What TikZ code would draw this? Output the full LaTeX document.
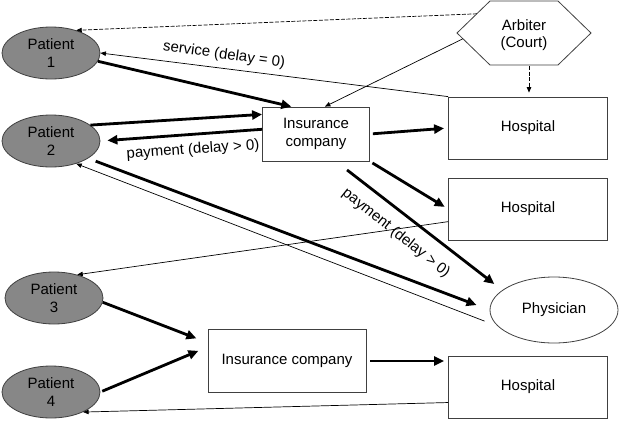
\documentclass[tikz,border=0pt]{standalone}
\usepackage{fontspec}
\setmainfont{Liberation Sans}
\usetikzlibrary{arrows.meta,shapes.geometric,calc}
\begin{document}
\begin{tikzpicture}[x=1pt,y=-1pt,
  every node/.style={font=\fontsize{15}{17.5}\selectfont, align=center, text=black},
  patient/.style={ellipse, draw=black!75, line width=0.8pt, fill=black!47, minimum width=98pt, minimum height=52pt, inner sep=0pt},
  box/.style={rectangle, draw=black!75, line width=0.8pt, fill=white, inner sep=0pt},
  hosp/.style={box, minimum width=159pt, minimum height=62pt},
  thickarrow/.style={line width=2.8pt, -{Triangle[length=10pt,width=9pt]}},
  thinarrow/.style={line width=0.7pt, -{Triangle[length=5.5pt,width=4.5pt]}},
  thindash/.style={thinarrow, dash pattern=on 4pt off 1.5pt},
]
\useasboundingbox (0,0) rectangle (619,421);

% nodes
\node[patient] (p1) at (51,53) {Patient\\1};
\node[patient] (p2) at (51,141) {Patient\\2};
\node[patient] (p3) at (54,298) {Patient\\3};
\node[patient] (p4) at (51,392) {Patient\\4};
\node[box, minimum width=107pt, minimum height=54pt] (ins1) at (316,134) {Insurance\\company};
\node[hosp] (h1) at (528,128) {Hospital};
\node[hosp] (h2) at (528,209) {Hospital};
\node[ellipse, draw=black!75, line width=0.8pt, minimum width=128pt, minimum height=66pt, inner sep=0pt] (phys) at (554,310) {Physician};
\node[box, minimum width=158pt, minimum height=63pt] (ins2) at (287,361) {Insurance company};
\node[hosp] (h3) at (528,387) {Hospital};

% arbiter hexagon
\coordinate (arbL) at (457,33);
\coordinate (arbTL) at (490,1);
\coordinate (arbTR) at (558,1);
\coordinate (arbR) at (591,33);
\coordinate (arbBR) at (558,65);
\coordinate (arbBL) at (490,65);
\draw[line width=0.8pt, draw=black!75, fill=white] (arbL) -- (arbTL) -- (arbTR) -- (arbR) -- (arbBR) -- (arbBL) -- cycle;
\node (arb) at (524,35) {Arbiter\\(Court)};
\coordinate (arbA) at ($(arbL)!0.6!(arbTL)$);
\coordinate (arbC) at ($(arbL)!0.18!(arbBL)$);
\coordinate (arbD) at (529,66);

% labels
\node[rotate=-8] (lsvc) at (224,55) {service (delay = 0)};
\node[rotate=4] (lpay1) at (193,150) {payment (delay > 0)};
\node[rotate=-38.5] (lpay2) at (396,233) {payment (delay > 0)};

% thin connectors
\draw[thindash] (arbA) -- (p1.42);
\draw[thinarrow] (h1.north west) -- (p1.east);
\draw[thinarrow] (arbC) -- (ins1.72);
\draw[thindash, shorten >=4pt] (arbD) -- (arbD |- h1.north);
\draw[thinarrow, shorten <=14pt] (phys.196) -- (p2.-42);
\draw[thinarrow] (h2.189) -- (p3.45);
\draw[thinarrow] (h3.191) -- (p4.-32);

% thick connectors
\draw[thickarrow] (p1.-10) -- (ins1.132);
\draw[thickarrow] (p2.22) -- (ins1.160);
\draw[thickarrow, shorten >=7pt] (ins1.175) -- (p2.east);
\draw[thickarrow, shorten <=3pt, shorten >=4pt] (ins1.east) -- (h1.west);
\draw[thickarrow, shorten <=3pt, shorten >=4pt] (ins1.south east) -- (h2.west);
\draw[thickarrow, shorten <=14pt, shorten >=10pt] ([xshift=20pt]ins1.south) -- (phys.159);
\draw[thickarrow, shorten <=8pt, shorten >=14pt] (p2.-25) -- (phys.west);
\draw[thickarrow, shorten >=12pt] (p3.-5) -- (ins2.167);
\draw[thickarrow, shorten <=2pt, shorten >=10pt] (p4.east) -- (ins2.170);
\draw[thickarrow, shorten <=4pt, shorten >=4pt] (ins2.east) -- (ins2.east -| h3.west);
\end{tikzpicture}
\end{document}
